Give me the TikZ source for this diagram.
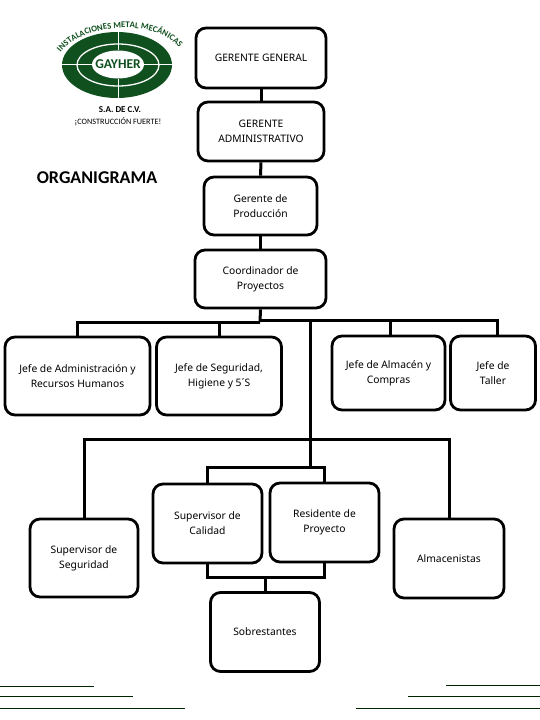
\documentclass[tikz,border=0pt]{standalone}
\usepackage{fontspec}
\setmainfont{Noto Sans}
\newfontfamily\titlefont{Carlito}
\usetikzlibrary{decorations.text}
\definecolor{logogreen}{RGB}{15,80,30}
\tikzset{
  box/.style= {draw, line width=2.8pt, rounded corners=10pt, align=center, font=\fontsize{10.3}{15}\selectfont, inner sep=0pt},
  link/.style= {line width=3pt},
  rule/.style= {line width=0.9pt, black!85!green},
}

\begin{document}
\begin{tikzpicture}[x=1pt, y=-1pt]
  \useasboundingbox (0,0) rectangle (540,720);

  % logo
  \fill [logogreen] (117,65) ellipse [x radius=55, y radius=33];
  \draw [white, line width=1.3pt] (118,65) ellipse [x radius=41, y radius=21];
  \fill [white] (118,64.5) ellipse [x radius=26, y radius=14];
  \draw [white, line width=1pt] (118,32) -- (118,50) (118,79) -- (118,98) (62,64.5) -- (92,64.5) (144,64.5) -- (172,64.5);
  \node (gayher) at (118,64.5) {\titlefont\bfseries\fontsize{13.5}{13.5}\selectfont\textcolor{logogreen}{GAYHER}};
  \path [decorate, decoration={text along path, text align=center, text={|\titlefont\bfseries\fontsize{8.7}{8.7}\selectfont\color{logogreen}|INSTALACIONES METAL MECÁNICAS}}]
    (56,60) .. controls (75,20) and (165,16) .. (184,55);
  \node (sade) at (120,110) {\titlefont\bfseries\fontsize{9}{9}\selectfont S.A. DE C.V.};
  \node (lema) at (118,122) {\titlefont\fontsize{8.2}{8.2}\selectfont ¡CONSTRUCCIÓN FUERTE!};
  \node (titulo) at (97,177.5) {\titlefont\bfseries\fontsize{18}{18}\selectfont ORGANIGRAMA};

  % boxes
  \node [box, minimum width=130, minimum height=60] (gg) at (261,58) {GERENTE GENERAL};
  \node [box, minimum width=126, minimum height=59] (ga) at (261,131.5) {GERENTE\\ADMINISTRATIVO};
  \node [box, minimum width=113, minimum height=58] (gp) at (260.5,206) {Gerente de\\Producción};
  \node [box, minimum width=131, minimum height=58] (cp) at (260.5,279) {Coordinador de\\Proyectos};
  \node [box, minimum width=145, minimum height=78] (ja) at (77.5,376) {Jefe de Administración y\\Recursos Humanos};
  \node [box, minimum width=125, minimum height=78] (js) at (219,376) {Jefe de Seguridad,\\Higiene y 5´S};
  \node [box, minimum width=113, minimum height=74] (jl) at (388.5,373) {Jefe de Almacén y\\Compras};
  \node [box, minimum width=85, minimum height=74] (jt) at (493,373) {Jefe de\\Taller};
  \node [box, minimum width=108, minimum height=78] (ss) at (84,558) {Supervisor de\\Seguridad};
  \node [box, minimum width=109, minimum height=79] (sc) at (207.5,523.5) {Supervisor de\\Calidad};
  \node [box, minimum width=109, minimum height=79] (rp) at (324.5,522.5) {Residente de\\Proyecto};
  \node [box, minimum width=110, minimum height=79] (al) at (449,558.5) {Almacenistas};
  \node [box, minimum width=109, minimum height=79] (so) at (265,632) {Sobrestantes};

  % bus points
  \coordinate (busa) at (260,322);
  \coordinate (busb) at (260,320);
  \coordinate (tronco) at (310,321);
  \coordinate (busc) at (310,439);
  \coordinate (busd) at (310,467);
  \coordinate (buse) at (265,577);

  % links
  \draw [link] (gg) -- (ga);
  \draw [link] (ga) -- (gp);
  \draw [link] (gp) -- (cp);
  \draw [link] (cp.south) -- (busa);
  \draw [link] (ja.north) |- (busa);
  \draw [link] (js.north) |- (busa);
  \draw [link] ([xshift=1.5pt]jl.north) |- (busb);
  \draw [link] ([xshift=4pt]jt.north) |- (busb);
  \draw [link] (tronco) -- (busc) -- (busd);
  \draw [link] (ss.north) |- (busc);
  \draw [link] (al.north) |- (busc);
  \draw [link] (sc.north) |- (busd);
  \draw [link] (rp.north) |- (busd);
  \draw [link] (sc.south) |- (buse);
  \draw [link] (rp.south) |- (buse);
  \draw [link] (buse) -- (so.north);

  % signature rules
  \draw [rule] (0,686.5) -- (94,686.5);
  \draw [rule] (0,696.5) -- (133,696.5);
  \draw [rule] (0,708) -- (185,708);
  \draw [rule] (446,685.5) -- (540,685.5);
  \draw [rule] (408,696.5) -- (540,696.5);
  \draw [rule] (356,708) -- (540,708);
\end{tikzpicture}
\end{document}
